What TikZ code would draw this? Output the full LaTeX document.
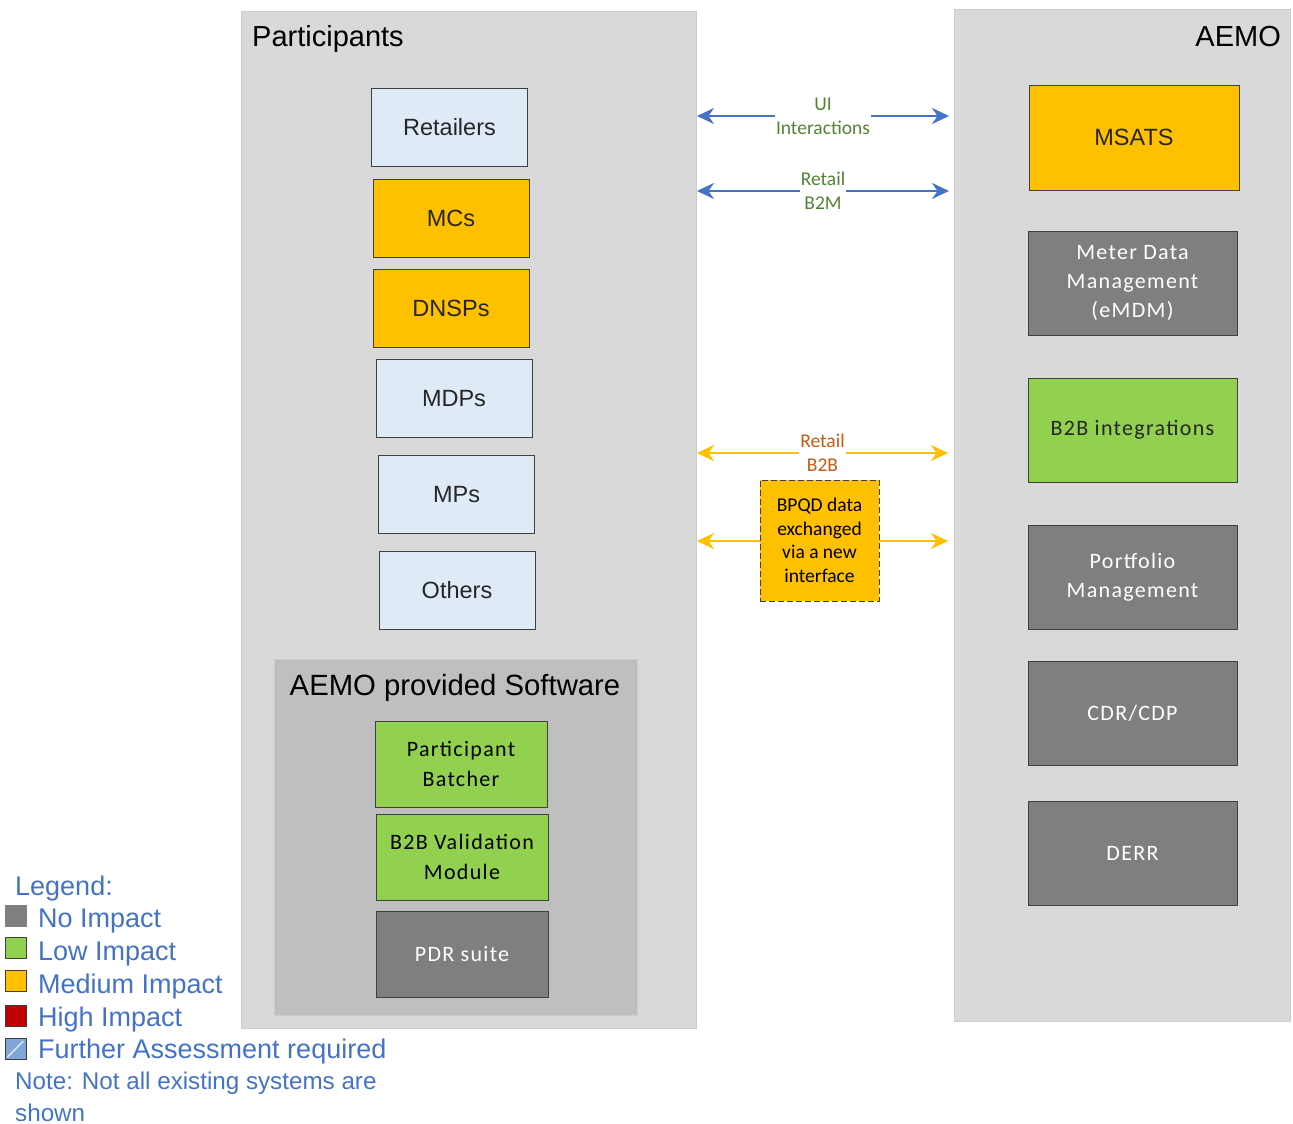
\documentclass[tikz,border=0pt]{standalone}
\usepackage{fontspec}
\setmainfont{Liberation Sans}
\newfontfamily\calfont[LetterSpace=6]{Carlito}
\newfontfamily\labfont{Carlito}
\usetikzlibrary{positioning,arrows.meta,calc}
\definecolor{panelgray}{HTML}{D9D9D9}
\definecolor{panelline}{HTML}{CCCCCC}
\definecolor{softgray}{HTML}{BFBFBF}
\definecolor{noimp}{HTML}{7F7F7F}
\definecolor{lowimp}{HTML}{92D050}
\definecolor{medimp}{HTML}{FFC000}
\definecolor{highimp}{HTML}{C00000}
\definecolor{furtherimp}{HTML}{7FA6D6}
\definecolor{partblue}{HTML}{DEEBF7}
\definecolor{linkblue}{HTML}{4472C4}
\definecolor{labgreen}{HTML}{548235}
\definecolor{labbrown}{HTML}{C55A11}
\definecolor{edgegray}{HTML}{404040}
\tikzstyle{panel} = [rectangle, fill=panelgray, draw=panelline, line width=1pt, anchor=north west, inner sep=0pt]
\tikzstyle{pbox} = [rectangle, minimum width=156pt, minimum height=78pt, draw=edgegray, line width=1pt,
text=black!85, font=\fontsize{23.5}{28}\selectfont, inner sep=0pt]
\tikzstyle{sysbox} = [rectangle, minimum width=209pt, minimum height=104pt, draw=edgegray, line width=1pt,
align=center, inner sep=0pt, font=\calfont\fontsize{22}{29}\selectfont]
\tikzstyle{swbox} = [rectangle, minimum width=172pt, minimum height=86pt, draw=edgegray, line width=1pt,
align=center, inner sep=0pt, font=\calfont\fontsize{22}{30}\selectfont]
\tikzstyle{darrow} = [line width=2.5pt, {Stealth[length=17pt,width=16pt]}-{Stealth[length=17pt,width=16pt]}]
\tikzstyle{linklabel} = [fill=white, align=center, inner sep=1pt, font=\labfont\fontsize{19.5}{24}\selectfont]
\tikzstyle{legbox} = [rectangle, minimum width=21pt, minimum height=21pt, draw=edgegray, line width=1pt, inner sep=0pt]
\tikzstyle{legtext} = [anchor=west, text=linkblue, font=\fontsize{27}{30}\selectfont, inner sep=0pt]
\tikzstyle{notetext} = [anchor=base west, text=linkblue, font=\fontsize{24.2}{30}\selectfont, inner sep=0pt]

\begin{document}
\begin{tikzpicture}[x=1pt,y=-1pt]
        \useasboundingbox (0,0) rectangle (1293,1124);

        % participant side
        \node[panel, minimum width=455pt, minimum height=1017pt] (partpanel) at (241,11) {};
        \node[anchor=west, inner sep=0pt, font=\fontsize{29}{32}\selectfont] (parttitle) at (252,39) {Participants};

        \node[pbox, fill=partblue] (retail) at (449.5,127.5) {Retailers};
        \node[pbox, fill=medimp, below=12pt of retail, xshift=1.5pt] (mcs) {MCs};
        \node[pbox, fill=medimp, below=11pt of mcs] (dnsps) {DNSPs};
        \node[pbox, fill=partblue, below=11pt of dnsps, xshift=3pt] (mdps) {MDPs};
        \node[pbox, fill=partblue, below=17pt of mdps, xshift=2.5pt] (mps) {MPs};
        \node[pbox, fill=partblue, below=17pt of mps, xshift=0.5pt] (others) {Others};

        \node[panel, fill=softgray, draw=panelline, minimum width=363pt, minimum height=356pt] (swpanel) at (274,659) {};
        \node[font=\fontsize{29.3}{32}\selectfont] (swtitle) at (455,688) {AEMO provided Software};
        \node[swbox, fill=lowimp] (batcher) at (461,764) {Participant\\Batcher};
        \node[swbox, fill=lowimp, below=6pt of batcher, xshift=1pt] (valid) {B2B Validation\\Module};
        \node[swbox, fill=noimp, text=white, below=10pt of valid] (pdr) {PDR suite};

        % AEMO side
        \node[panel, minimum width=336pt, minimum height=1012pt] (aemopanel) at (954,9) {};
        \node[anchor=east, inner sep=0pt, font=\fontsize{29}{32}\selectfont] (aemotitle) at (1281,37) {AEMO};

        \node[sysbox, fill=medimp, minimum width=210pt, minimum height=105pt, font=\fontsize{23.5}{28}\selectfont, text=black!85] (msats) at (1134,137.5) {MSATS};
        \node[sysbox, fill=noimp, text=white, below=40pt of msats, xshift=-1.5pt] (emdm) {Meter Data\\Management\\(eMDM)};
        \node[sysbox, fill=lowimp, text=black!85, below=42pt of emdm] (b2bint) {B2B integrations};
        \node[sysbox, fill=noimp, text=white, below=42pt of b2bint] (portfolio) {Portfolio\\Management};
        \node[sysbox, fill=noimp, text=white, below=31pt of portfolio] (cdr) {CDR/CDP};
        \node[sysbox, fill=noimp, text=white, below=35pt of cdr] (derr) {DERR};

        % links between the two sides
        \coordinate (uil) at (697,116);
        \coordinate (uir) at (949,116);
        \coordinate (b2ml) at (697,191);
        \coordinate (b2mr) at (949,191);
        \coordinate (b2bl) at (697,453);
        \coordinate (b2br) at (948,453);
        \coordinate (bpqdl) at (697,541);
        \coordinate (bpqdr) at (948,541);

        \draw[darrow, linkblue] (uil) -- (uir) node[midway, linklabel, text=labgreen] (uilab) {UI\\Interactions};
        \draw[darrow, linkblue] (b2ml) -- (b2mr) node[midway, linklabel, text=labgreen] (b2mlab) {Retail\\B2M};
        \draw[darrow, medimp] (b2bl) -- (b2br) node[midway, linklabel, text=labbrown] (b2blab) {Retail\\B2B};
        \draw[darrow, medimp] (bpqdl) -- (bpqdr);
        \node[rectangle, fill=medimp, draw=edgegray, dash pattern=on 6pt off 3pt, line width=1pt, minimum width=119pt, minimum height=121pt,
        align=center, inner sep=0pt, font=\labfont\fontsize{19.5}{23.5}\selectfont] (bpqd) at (819.5,540.5)
        {BPQD data\\exchanged\\via a new\\interface};

        % legend
        \node[legtext, anchor=west] (legtitle) at (15,889) {Legend:};
        \node[legbox, fill=noimp, draw=noimp] (kno) at (15.5,915.5) {};
        \node[legbox, fill=lowimp] (klow) at (15.5,948) {};
        \node[legbox, fill=medimp] (kmed) at (15.5,981) {};
        \node[legbox, fill=highimp] (khigh) at (15.5,1016) {};
        \node[legbox, fill=furtherimp] (kfur) at (15.5,1049) {};
        \draw[white!70!furtherimp, line width=1.5pt] ($(kfur.south west)+(3,-3)$) -- ($(kfur.north east)+(-3,3)$);
        \node[legtext] at (38,921) (tno) {No Impact};
        \node[legtext] at (38,954) (tlow) {Low Impact};
        \node[legtext] at (38,987) (tmed) {Medium Impact};
        \node[legtext] at (38,1020) (thigh) {High Impact};
        \node[legtext] at (38,1052) (tfur) {Further Assessment required};
        \node[notetext] (note) at (15,1089) {Note: Not all existing systems are};
        \node[notetext] (noteb) at (15,1121) {shown};

    \end{tikzpicture}
\end{document}
